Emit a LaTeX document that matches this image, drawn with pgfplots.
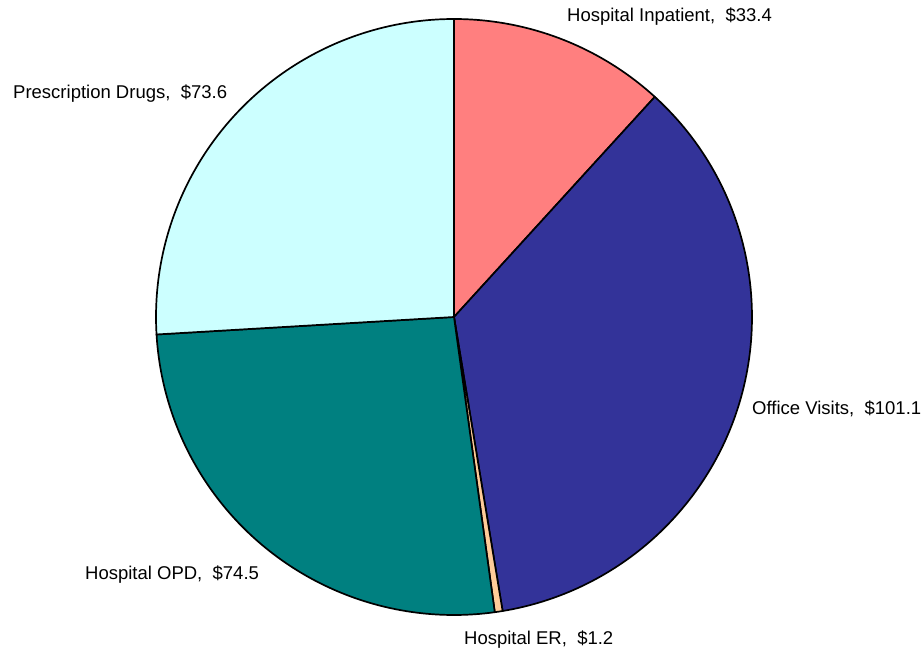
\documentclass[border=0pt]{standalone}
\usepackage{fontspec}
\setmainfont{Liberation Sans}
\usepackage{pgfplots}
\pgfplotsset{compat=1.18}
\definecolor{cInp}{HTML}{FF7F7F}
\definecolor{cOff}{HTML}{333399}
\definecolor{cER}{HTML}{FFCC99}
\definecolor{cOPD}{HTML}{008080}
\definecolor{cDrug}{HTML}{CCFFFF}
% data (billions of dollars)
\def\vA{33.4}% Hospital Inpatient
\def\vB{101.1}% Office Visits
\def\vC{1.2}% Hospital ER
\def\vD{74.5}% Hospital OPD
\def\vE{73.6}% Prescription Drugs
\pgfmathsetmacro\tot{\vA+\vB+\vC+\vD+\vE}
\pgfmathsetmacro\aO{90}
\pgfmathsetmacro\aA{\aO-360*(\vA/\tot)}
\pgfmathsetmacro\aB{\aA-360*(\vB/\tot)}
\pgfmathsetmacro\aC{\aB-360*(\vC/\tot)}
\pgfmathsetmacro\aD{\aC-360*(\vD/\tot)}
\pgfmathsetmacro\aE{\aD-360*(\vE/\tot)}
\begin{document}%
\begin{tikzpicture}
\begin{axis}[
  anchor=origin,
  scale only axis, width=921pt, height=649pt,
  xmin=0, xmax=921, ymin=0, ymax=649,
  hide axis, clip=false,
  xtick=\empty, ytick=\empty,
]
\coordinate (BL) at (axis cs:0,0);
\coordinate (TR) at (axis cs:921,649);
\def\R{298pt}
\filldraw[fill=cInp, draw=black, line width=1.7pt, line join=round] (axis cs:454,332) -- ++(\aO:\R) arc[start angle=\aO, end angle=\aA, radius=\R] -- cycle;
\filldraw[fill=cOff, draw=black, line width=1.7pt, line join=round] (axis cs:454,332) -- ++(\aA:\R) arc[start angle=\aA, end angle=\aB, radius=\R] -- cycle;
\filldraw[fill=cER, draw=black, line width=1.7pt, line join=round] (axis cs:454,332) -- ++(\aB:\R) arc[start angle=\aB, end angle=\aC, radius=\R] -- cycle;
\filldraw[fill=cOPD, draw=black, line width=1.7pt, line join=round] (axis cs:454,332) -- ++(\aC:\R) arc[start angle=\aC, end angle=\aD, radius=\R] -- cycle;
\filldraw[fill=cDrug, draw=black, line width=1.7pt, line join=round] (axis cs:454,332) -- ++(\aD:\R) arc[start angle=\aD, end angle=\aE, radius=\R] -- cycle;
\begin{scope}[every node/.style={anchor=base west, inner sep=0pt, font=\fontsize{18.5}{22}\selectfont}]
\node at (axis cs:567,627) {Hospital Inpatient,~~\$33.4};
\node at (axis cs:752,235) {Office Visits,~~\$101.1};
\node at (axis cs:464,5) {Hospital ER,~~\$1.2};
\node at (axis cs:85,70) {Hospital OPD,~~\$74.5};
\node at (axis cs:13,550) {Prescription Drugs,~~\$73.6};
\end{scope}
\end{axis}
\pgfresetboundingbox
\path (BL) rectangle (TR);
\end{tikzpicture}%
\end{document}
